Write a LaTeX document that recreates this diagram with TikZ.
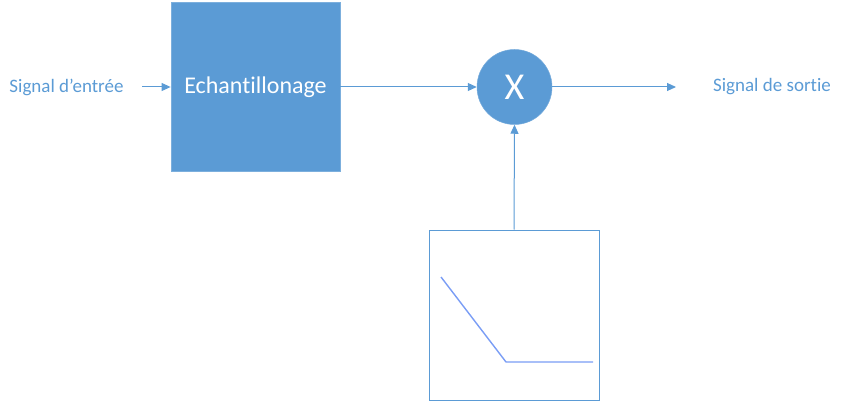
\documentclass[tikz,border=0pt]{standalone}
\usepackage{fontspec}
\setmainfont{Carlito}[RawFeature={-liga}]
\usetikzlibrary{arrows.meta}
\definecolor{oblue}{HTML}{5B9BD5}
\definecolor{gblue}{HTML}{7A9DF5}
\tikzset{
  conn/.style={draw=oblue, line width=1pt, -{Triangle[length=9pt,width=8pt]}},
  lbl/.style={text=oblue, font=\fontsize{19}{22}\selectfont, inner sep=0pt},
}
\begin{document}
\begin{tikzpicture}[x=1pt,y=-1pt]
\useasboundingbox (0,0) rectangle (841,401);
% nodes
\node[lbl] (in) at (66.5,87) {Signal d’entrée};
\node[lbl] (out) at (772,87) {Signal de sortie};
\node[fill=oblue, draw=oblue!80!white, line width=0.8pt, minimum width=169pt, minimum height=169pt, inner sep=0pt,
      text=white, font=\fontsize{24}{28}\selectfont] (ech) at (255.5,87) {Echantillonage};
\node[circle, fill=oblue, draw=oblue!85!white, line width=0.5pt, minimum size=75pt, inner sep=0pt,
      text=white, font=\fontsize{38}{42}\selectfont] (mul) at (514.5,87) {X};
\node[draw=oblue, line width=1pt, minimum width=170pt, minimum height=170pt, inner sep=0pt] (gen) at (514,315) {};
\coordinate (endout) at (676,87);
\coordinate (startin) at (142,87);
% graph inside
\coordinate (g1) at (441,277);
\coordinate (g2) at (506,362);
\coordinate (g3) at (593,362);
\draw[gblue, line width=1.4pt] (g1) -- (g2) -- (g3);
% connectors
\draw[conn] (startin) -- (ech.west);
\draw[conn] (ech.east) -- (mul.west);
\draw[conn] (mul.east) -- (endout);
\draw[conn] (gen.north) -- (mul.south);
\end{tikzpicture}
\end{document}
